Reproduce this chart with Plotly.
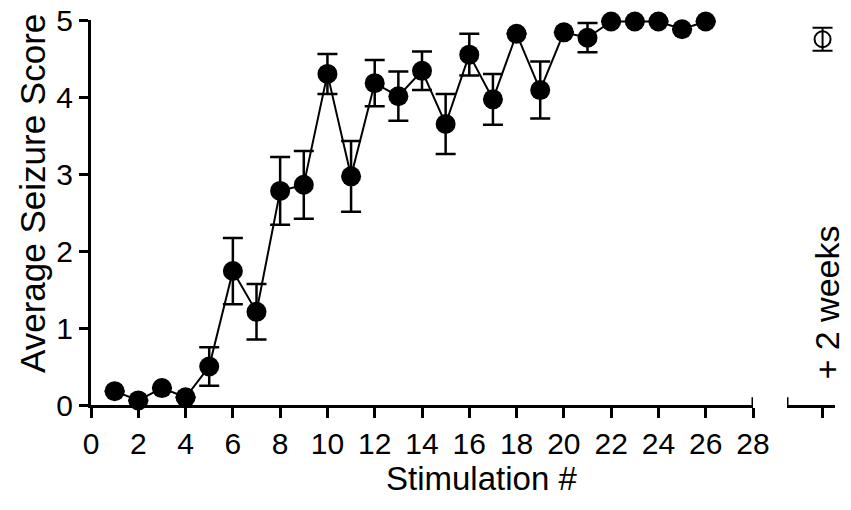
import plotly.graph_objects as go

# Data
stim = list(range(1, 27))
score = [0.18, 0.06, 0.22, 0.10, 0.50, 1.74, 1.21, 2.78, 2.86, 4.30,
         2.97, 4.18, 4.01, 4.34, 3.65, 4.55, 3.97, 4.82, 4.09, 4.84,
         4.77, 4.98, 4.98, 4.98, 4.88, 4.98]
sem = [0.0, 0.0, 0.0, 0.0, 0.25, 0.43, 0.36, 0.44, 0.44, 0.26,
       0.46, 0.30, 0.32, 0.25, 0.39, 0.27, 0.33, 0.0, 0.37, 0.0,
       0.19, 0.0, 0.0, 0.0, 0.0, 0.0]
post_x = [0]
post_label = ["+ 2 weeks"]
post_score = [4.75]
post_sem = [0.15]

x_ticks = list(range(0, 29, 2))
y_ticks = [0, 1, 2, 3, 4, 5]

FONT = "Arial, Liberation Sans, Helvetica, sans-serif"

# page body has an 8px margin; size the figure so the page is 851x510
OFF = 8
W, H = 851 - 2 * OFF, 510 - 2 * OFF
ML, MR, MT, MB = 91 - OFF, 5, 20 - OFF, 510 - 405 - OFF
PW = W - ML - MR
PH = H - MT - MB


def px(xpix):
    return (xpix - OFF - ML) / PW


def py(ypix):
    return (H - MB - (ypix - OFF)) / PH


fig = go.Figure()

fig.add_trace(go.Scatter(
    x=stim, y=score, mode="lines+markers",
    line=dict(color="black", width=2),
    marker=dict(color="black", size=20),
    error_y=dict(type="data", array=sem, color="black", thickness=2.5, width=10),
    cliponaxis=False, showlegend=False,
))

fig.add_trace(go.Scatter(
    x=post_x, y=post_score, mode="markers", xaxis="x2", yaxis="y",
    marker=dict(symbol="circle-open", color="black", size=16, line=dict(width=2)),
    error_y=dict(type="data", array=post_sem, color="black", thickness=2, width=10),
    cliponaxis=False, showlegend=False,
))

axis_common = dict(
    showline=True, linecolor="black", linewidth=3,
    ticks="outside", tickcolor="black", tickwidth=3,
    showgrid=False, zeroline=False, automargin=False,
    ticklabeloverflow="allow",
    tickfont=dict(family=FONT, size=30, color="black"),
)

fig.update_layout(
    width=W, height=H, autosize=False,
    margin=dict(l=ML, r=MR, t=MT, b=MB, autoexpand=False),
    paper_bgcolor="white", plot_bgcolor="white",
    xaxis=dict(domain=[0, px(753)], range=[0, 28], tickvals=x_ticks,
               ticklen=10, anchor="y", **axis_common),
    xaxis2=dict(domain=[px(787), px(835)], range=[-1.0, 0.35], tickvals=post_x,
                ticktext=[""], ticklen=10, anchor="y", **axis_common),
    yaxis=dict(range=[0, 5], tickvals=y_ticks, ticklen=9, **axis_common),
    annotations=[
        dict(text="Average Seizure Score", xref="paper", yref="paper",
             x=px(32), y=py(194), textangle=-90, showarrow=False,
             font=dict(family=FONT, size=35, color="black"),
             xanchor="center", yanchor="middle"),
        dict(text="Stimulation #", xref="paper", yref="paper",
             x=px(481), y=py(478), showarrow=False,
             font=dict(family=FONT, size=33, color="black"),
             xanchor="center", yanchor="middle"),
        dict(text=post_label[0], xref="x2", yref="paper",
             x=post_x[0], y=py(303), textangle=-90, showarrow=False,
             xshift=4,
             font=dict(family=FONT, size=34, color="black"),
             xanchor="center", yanchor="middle"),
    ],
    shapes=[
        dict(type="line", xref="x", yref="y", x0=28, x1=28, y0=-0.1, y1=0.1,
             line=dict(color="black", width=3)),
        dict(type="line", xref="x2", yref="y", x0=-1.0, x1=-1.0, y0=-0.1, y1=0.1,
             line=dict(color="black", width=3)),
    ],
)

fig.write_html("out.html")
